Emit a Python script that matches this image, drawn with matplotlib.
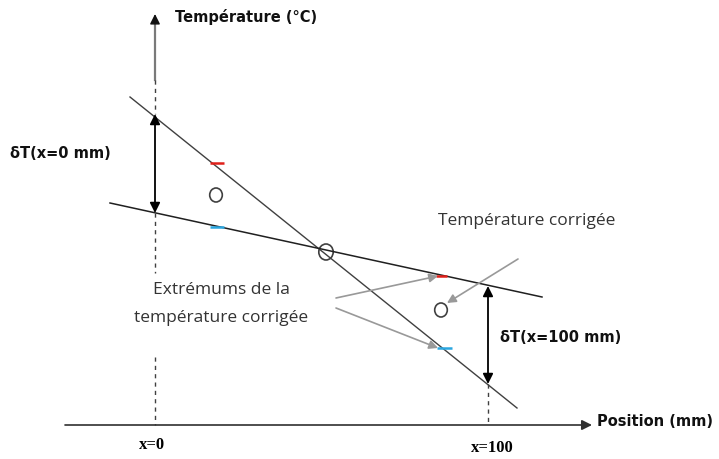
import matplotlib
matplotlib.use("Agg")
import matplotlib.pyplot as plt
from matplotlib.patches import Ellipse

# Coordonnees du schema (en pixels de l'image, y vers le bas)
W, H = 719, 459

# droites de temperature (x0, y0, x1, y1)
steep_line = [130, 97, 517, 408]
shallow_line = [110, 203, 542, 297]

# axes
x_axis = [65, 425, 592, 425]
y_axis_x = 155
y_arrow_top = 14
y_solid_bottom = 80

# doubles fleches deltaT
dT0 = [155, 114, 213]
dT100 = [488, 286, 384]

# marqueurs rouge / bleu (x0, x1, y)
red_marks = [[210, 224, 163], [436, 447, 276]]
blue_marks = [[210, 224, 227], [437, 452, 348]]

# cercles (x, y, rayon)
circles = [[216, 195, 7], [326, 252, 8], [441, 310, 7]]

# fleches grises (depart -> arrivee)
gray_arrows = [[336, 298, 438, 276], [336, 308, 438, 348], [518, 259, 447, 303]]

plt.rcParams['figure.dpi'] = 100
fig = plt.figure(figsize=(W / 100, H / 100))
ax = fig.add_axes([0, 0, 1, 1])
ax.set_xlim(0, W)
ax.set_ylim(H, 0)
ax.axis('off')

# droites
ax.plot(steep_line[::2], steep_line[1::2], color='#404040', lw=1)
ax.plot(shallow_line[::2], shallow_line[1::2], color='#202020', lw=1.1)

# axe des positions
ax.annotate('', xy=(x_axis[2], x_axis[3]), xytext=(x_axis[0], x_axis[1]),
            arrowprops=dict(arrowstyle='-|>', color='#303030', lw=1.2,
                            mutation_scale=15, shrinkA=0, shrinkB=0))
# axe des temperatures : trait gris + pointe noire
ax.plot([y_axis_x, y_axis_x], [y_arrow_top + 8, y_solid_bottom], color='#7a7a7a', lw=1.6)
ax.annotate('', xy=(y_axis_x, y_arrow_top), xytext=(y_axis_x, y_arrow_top + 9),
            arrowprops=dict(arrowstyle='-|>', color='#111111', lw=1,
                            mutation_scale=15, shrinkA=0, shrinkB=0))
dash = (0, (3, 3))
ax.plot([y_axis_x, y_axis_x], [y_solid_bottom, dT0[1]], color='#404040', lw=1, ls=dash)
ax.plot([y_axis_x, y_axis_x], [dT0[2], 273], color='#404040', lw=1, ls=dash)
ax.plot([y_axis_x, y_axis_x], [357, x_axis[1]], color='#404040', lw=1, ls=dash)
ax.plot([dT100[0], dT100[0]], [dT100[2], x_axis[1]], color='#404040', lw=1, ls=dash)

# doubles fleches
for xx, y0, y1 in [dT0, dT100]:
    ax.annotate('', xy=(xx, y0), xytext=(xx, y1),
                arrowprops=dict(arrowstyle='<|-|>', color='black', lw=1.3,
                                mutation_scale=15, shrinkA=0, shrinkB=0))

# petits traits rouges et bleus
for x0, x1, yy in red_marks:
    ax.plot([x0, x1], [yy, yy], color='#e0201a', lw=1.8, solid_capstyle='butt')
for x0, x1, yy in blue_marks:
    ax.plot([x0, x1], [yy, yy], color='#2aa6e0', lw=1.8, solid_capstyle='butt')

# cercles
for cx, cy, r in circles:
    ax.add_patch(Ellipse((cx, cy), 2 * r * 0.9, 2 * r, fill=False,
                         ec='#404040', lw=1.2))

# fleches grises
for x0, y0, x1, y1 in gray_arrows:
    ax.annotate('', xy=(x1, y1), xytext=(x0, y0),
                arrowprops=dict(arrowstyle='-|>', color='#999999', lw=1.2,
                                mutation_scale=13, shrinkA=0, shrinkB=0))

# textes
bold = dict(fontweight='bold', family='DejaVu Sans', fontsize=10.5, color='#111111')
ax.text(175, 17, 'Température (°C)', ha='left', va='center', **bold)
ax.text(597, 422, 'Position (mm)', ha='left', va='center', **bold)
ax.text(10, 153, 'δT(x=0 mm)', ha='left', va='center', **bold)
ax.text(500, 338, 'δT(x=100 mm)', ha='left', va='center', **bold)
ax.text(152, 445, 'x=0', ha='center', va='center', fontweight='bold',
        family='Liberation Serif', fontsize=12)
ax.text(492, 448, 'x=100', ha='center', va='center', fontweight='bold',
        family='Liberation Serif', fontsize=12)

normal = dict(family='Open Sans', fontsize=12.5, color='#333333')
ax.text(527, 221, 'Température corrigée', ha='center', va='center', **normal)
ax.text(221, 290, 'Extrémums de la', ha='center', va='center', **normal)
ax.text(221, 318, 'température corrigée', ha='center', va='center', **normal)

fig.savefig('out.png', dpi=100)
